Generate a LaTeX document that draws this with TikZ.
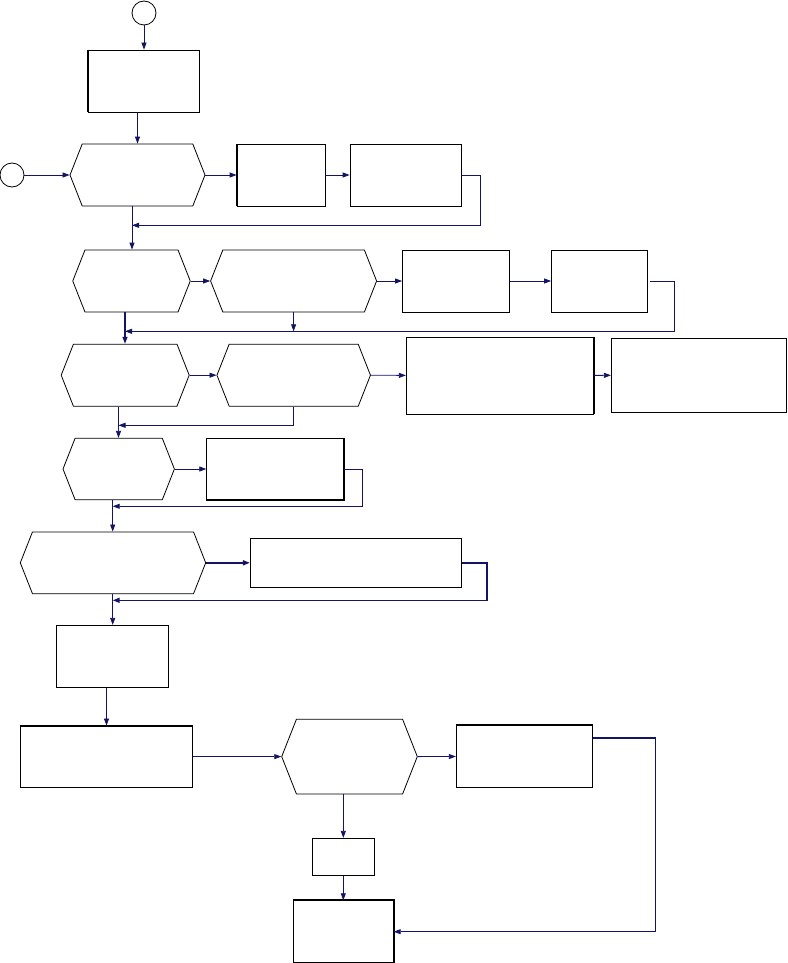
\documentclass[tikz,border=0pt]{standalone}
\usetikzlibrary{arrows.meta}
\usetikzlibrary{shapes.symbols}
\definecolor{linknavy}{RGB}{20,20,100}

\begin{document}
\begin{tikzpicture}[x=1pt,y=-1pt,
  box/.style={draw,line width=0.8pt,inner sep=0pt},
  hexbox/.style={draw,line width=0.8pt,inner sep=0pt,shape=signal,signal to=east and west,signal pointer angle=137},
  start/.style={draw,line width=0.8pt,circle,minimum size=24pt,inner sep=0pt},
  link/.style={linknavy,line width=0.8pt,-{Triangle[length=7pt,width=5pt]}},
  heavyside/.style={line width=2pt}]

\fill[white] (0,0) rectangle (787,963);
\useasboundingbox (0,0) rectangle (787,963);

% start points
\node[start] (c1) at (144,13) {};
\node[start] (c2) at (12,175) {};

% row 1
\node[box,minimum width=111pt,minimum height=62pt] (b1) at (143.5,81) {};
\node[hexbox,minimum width=135pt,minimum height=62pt] (h1) at (137.5,175) {};
\node[box,minimum width=88pt,minimum height=62pt] (b2) at (281,175) {};
\node[box,minimum width=111pt,minimum height=62pt] (b3) at (405.5,175) {};

% row 2
\node[hexbox,minimum width=117.5pt,minimum height=62pt] (h2) at (131.5,281) {};
\node[hexbox,minimum width=166pt,minimum height=62pt] (h3) at (293.6,281) {};
\node[box,minimum width=107pt,minimum height=62pt] (b4) at (456,281) {};
\node[box,minimum width=96pt,minimum height=62pt] (b5) at (599.5,281) {};

% row 3
\node[hexbox,minimum width=128pt,minimum height=62pt] (h4) at (125.2,375.2) {};
\node[hexbox,minimum width=153.5pt,minimum height=62pt] (h5) at (293.7,375.2) {};
\node[box,minimum width=187pt,minimum height=77pt] (b6) at (499.8,375.4) {};
\node[box,minimum width=175pt,minimum height=74pt] (b7) at (698.8,375.3) {};

% row 4
\node[hexbox,minimum width=111.4pt,minimum height=61.4pt] (h6) at (118.7,469) {};
\node[box,minimum width=136.6pt,minimum height=61.4pt] (b8) at (275,469) {};

% row 5
\node[hexbox,minimum width=185.4pt,minimum height=61.7pt] (h7) at (113,562.8) {};
\node[box,minimum width=211.4pt,minimum height=49pt] (b9) at (356,562.8) {};

% lower part
\node[box,minimum width=112pt,minimum height=62pt] (b10) at (112.7,656.3) {};
\node[box,minimum width=172.4pt,minimum height=61.3pt] (b11) at (106.5,756.6) {};
\node[hexbox,minimum width=135.6pt,minimum height=74.7pt] (h8) at (349.5,756.6) {};
\node[box,minimum width=136.4pt,minimum height=61.6pt] (b12) at (524.5,756.5) {};
\node[box,minimum width=62pt,minimum height=37pt] (b13) at (343.3,856.8) {};
\node[box,minimum width=100pt,minimum height=62pt] (b14) at (343.3,931.7) {};

% heavy sides
\draw[heavyside] (b1.north west) -- (b1.south west);
\draw[heavyside] (b2.north west) -- (b2.south west);
\draw[heavyside] (b6.north east) -- (b6.south east);
\draw[heavyside] (b8.north east) -- (b8.south east) -- (b8.south west);
\draw[heavyside] (b11.north west) -- (b11.north east);
\draw[heavyside] (b12.north west) -- (b12.north east);
\draw[heavyside] (b14.north west) -- (b14.north east) -- (b14.south east);

% merge points
\coordinate (m1) at (132,225.3);
\coordinate (m2) at (125,331.3);
\coordinate (m3) at (118.5,425.3);
\coordinate (m4) at (112.7,506.3);
\coordinate (m5) at (112.7,600.3);
\coordinate (t1) at (655.7,737.7);

% main flow
\draw[link] (c1) -- (c1 |- b1.north);
\draw[link] (h1.north |- b1.south) -- (h1.north);
\draw[link] (c2) -- (h1.west);
\draw[link] (h1.east) -- (b2.west);
\draw[link] (b2.east) -- (b3.west);
\draw[link] (m1 |- h1.south) -- (m1 |- h2.north);
\draw[link] (h2.east) -- (h3.west);
\draw[link] (h3.east) -- (b4.west);
\draw[link] (b4.east) -- (b5.west);
\draw[link,line width=1.4pt] (m2 |- h2.south) -- (m2 |- h4.north);
\draw[link] (h4.east) -- (h5.west);
\draw[link] (h5.east) -- (b6.west);
\draw[link] (b6.east) -- (b7.west);
\draw[link] (m3 |- h4.south) -- (m3 |- h6.north);
\draw[link] (h6.east) -- (b8.west);
\draw[link] (m4 |- h6.south) -- (m4 |- h7.north);
\draw[link,line width=1.6pt] (h7.east) -- (b9.west);
\draw[link] (m5 |- h7.south) -- (m5 |- b10.north);
\draw[link] (b11.north |- b10.south) -- (b11.north);
\draw[link] (b11.east) -- (h8.west);
\draw[link] (h8.east) -- (b12.west);
\draw[link] (b13.north |- h8.south) -- (b13.north);
\draw[link] (b13.south) -- (b14.north);

% returns
\draw[link] (b3.east) -- (480.3,175) |- (m1);
\draw[link] ([xshift=2pt]b5.east) -- (674,281) |- (m2);
\draw[link] (h3.south) -- (h3.south |- m2);
\draw[link] (h5.south) |- (m3);
\draw[link] (b8.east) -- (362.3,469) |- (m4);
\draw[link,line width=1.6pt] (b9.east) -- (487,562.8) |- (m5);
\draw[linknavy,line width=1.6pt] (b12.east |- t1) -- (t1);
\draw[link] (t1) |- (b14.east);

\end{tikzpicture}
\end{document}
